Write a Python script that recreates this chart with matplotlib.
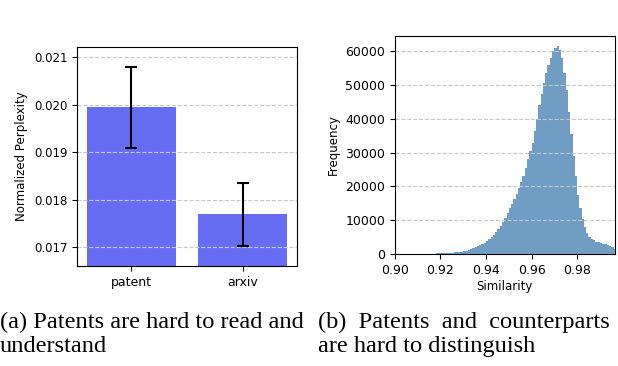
import numpy as np
import matplotlib
matplotlib.use("Agg")
import matplotlib.pyplot as plt

# (a) normalized perplexity per corpus
corpora = ["patent", "arxiv"]
perplexity = [0.01994, 0.01769]
perplexity_err = [0.00085, 0.00066]

# (b) similarity histogram, one count per 0.001-wide bin starting at 0.900
bin_start = 0.900
bin_width = 0.001
sim_counts = [
    0, 0, 0, 0, 0, 0, 0, 0, 0, 0,
    20, 30, 40, 50, 60, 80, 100, 120, 150, 180,
    220, 260, 300, 340, 390, 440, 500, 560, 640, 730,
    850, 1000, 1200, 1450, 1700, 2000, 2350, 2700, 3000, 3400,
    3800, 4300, 4900, 5600, 6400, 7300, 8300, 9500, 10800, 12200,
    13500, 14800, 16300, 17800, 19500, 21300, 23200, 25500, 28000, 30500,
    33000, 36500, 40000, 44000, 47500, 50500, 53500, 56000, 58000, 60000,
    61000, 61500, 60500, 58000, 53500, 48500, 42000, 35500, 29000, 23000,
    17500, 13500, 10500, 8000, 6200, 5000, 4400, 4000, 3700, 3500,
    3300, 3100, 2900, 2700, 2400, 2000, 1400,
]

captions = [
    "(a) Patents are hard to read and\nunderstand",
    "(b)  Patents  and  counterparts\nare hard to distinguish",
]

fig = plt.figure(figsize=(6.18, 3.66), dpi=100)

# left panel
ax1 = fig.add_axes([0.1246, 0.2732, 0.356, 0.598])
ax1.bar(corpora, perplexity, width=0.8, color="#0a14eb", alpha=0.62,
        yerr=perplexity_err, capsize=4.5,
        error_kw=dict(elinewidth=1.5, capthick=1.5, ecolor="black"))
ax1.set_ylim(0.0166, 0.02121)
ax1.set_yticks([0.017, 0.018, 0.019, 0.020, 0.021])
ax1.set_ylabel("Normalized Perplexity", fontsize=8.5)
ax1.tick_params(labelsize=9)
ax1.tick_params(axis="y", labelsize=8.5)
ax1.grid(axis="y", linestyle="--", color="#c8c8c8")

# right panel
ax2 = fig.add_axes([0.639, 0.306, 0.356, 0.596])
edges = bin_start + bin_width * np.arange(len(sim_counts) + 1)
ax2.hist(edges[:-1], bins=edges, weights=sim_counts, color="steelblue", alpha=0.78)
ax2.set_xlim(0.90, 0.9966)
ax2.set_xticks([0.90, 0.92, 0.94, 0.96, 0.98])
ax2.set_yticks(range(0, 60001, 10000))
ax2.set_xlabel("Similarity", fontsize=8.5, labelpad=2)
ax2.set_ylabel("Frequency", fontsize=8.5)
ax2.tick_params(labelsize=9)
ax2.grid(axis="y", linestyle="--", color="#c8c8c8")

fig.text(0.0, 0.148, captions[0], family="Liberation Serif", fontsize=17.6,
         va="top", ha="left", linespacing=1.2)
fig.text(0.515, 0.148, captions[1], family="Liberation Serif", fontsize=17.6,
         va="top", ha="left", linespacing=1.2)

fig.savefig("out.png", dpi=100)
